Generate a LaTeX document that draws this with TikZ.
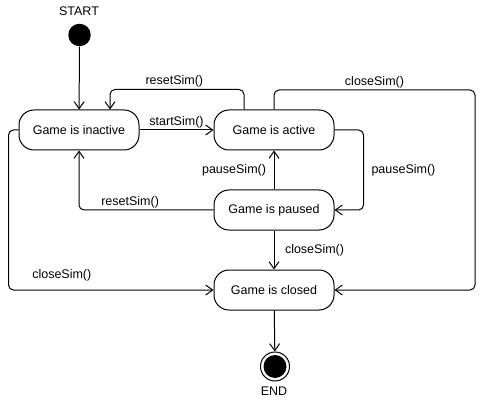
\documentclass[tikz,border=0pt]{standalone}
\usepackage{fontspec}
\setmainfont{Liberation Sans}
\usetikzlibrary{arrows.meta}
\tikzset{>={Straight Barb[length=7pt,width=10pt]}}

\begin{document}
\begin{tikzpicture}[x=1pt,y=-1pt,line width=1pt,
    font=\fontsize{12.5}{14}\selectfont,
    state/.style={draw,rounded corners=15pt,minimum width=120pt,minimum height=40pt,inner sep=0pt},
    trans/.style={->,rounded corners=5pt},
    lbl/.style={inner sep=1.5pt}]
  \useasboundingbox (0,0) rectangle (485,401);

  % start and end
  \node[circle,fill,minimum size=22.5pt,inner sep=0pt] (start) at (79.5,35) {};
  \node (startlbl) at (79,11) {START};
  \node[circle,draw,minimum size=29pt,inner sep=0pt] (stop) at (275,366.5) {};
  \fill (stop) circle (11.5pt);
  \node (stoplbl) at (274,391) {END};

  % states
  \node[state] (inactive) at (79,130) {Game is inactive};
  \node[state] (active) at (274,130) {Game is active};
  \node[state] (paused) at (274,210) {Game is paused};
  \node[state] (closed) at (274,290) {Game is closed};

  % transitions
  \draw[trans] (start) -- (inactive);
  \draw[trans] (inactive) -- node[lbl,above]{startSim()} (active);
  \draw[trans] ([xshift=-30pt]active.north) -- ++(0,-20) -| node[lbl,above,pos=0.26]{resetSim()} ([xshift=31pt]inactive.north);
  \draw[trans] (active.north) |- node[lbl,above,pos=0.75]{closeSim()} (475,90) |- (closed.east);
  \draw[trans] (active.east) -| node[lbl,right=6pt,pos=0.75]{pauseSim()} ([xshift=29pt]paused.east) -- (paused.east);
  \draw[trans] (paused) -- node[lbl,left=6pt]{pauseSim()} (active);
  \draw[trans] (paused) -- node[lbl,right=9pt]{closeSim()} (closed);
  \draw[trans] (paused.west) -| node[lbl,above,pos=0.31]{resetSim()} (inactive.south);
  \draw[trans] (inactive.west) -- ++(-10,0) |- node[lbl,above=7pt,pos=0.63]{closeSim()} (closed.west);
  \draw[trans] (closed) -- (stop);
\end{tikzpicture}
\end{document}
